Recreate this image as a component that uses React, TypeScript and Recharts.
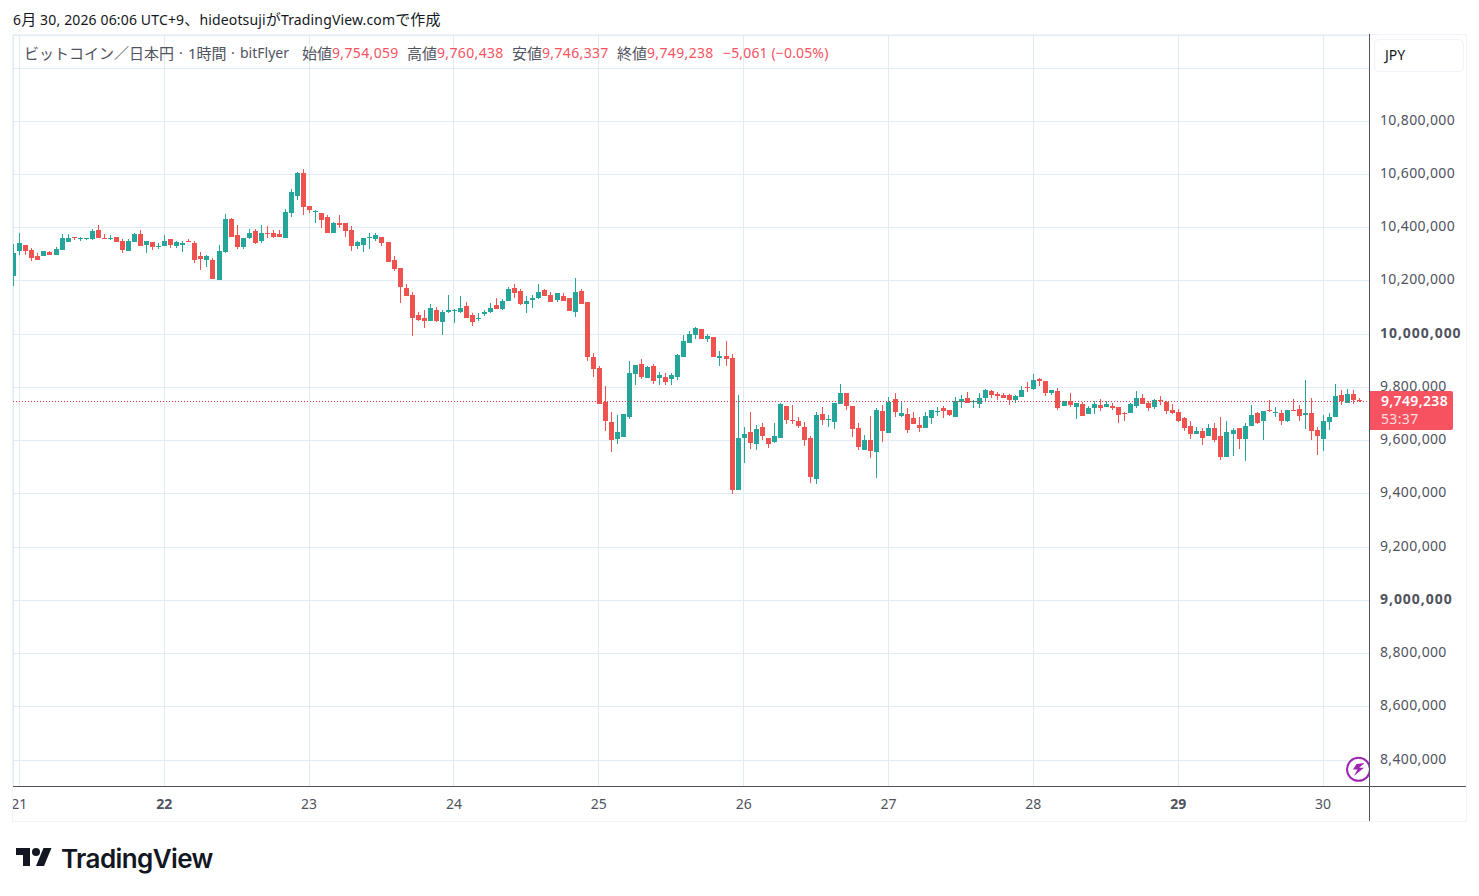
import { Bar, CartesianGrid, ComposedChart, ReferenceLine, XAxis, YAxis } from 'recharts';

// Hourly candles from 20th 23:00, prices in thousand yen
const opens = [
  10220, 10311, 10337, 10318, 10295, 10292, 10309, 10299, 10318, 10348, 10367, 10360,
  10360, 10356, 10390, 10360, 10356, 10367, 10352, 10314, 10348, 10375, 10337, 10348,
  10329, 10333, 10356, 10333, 10337, 10352, 10341, 10295, 10277, 10280, 10205, 10307,
  10431, 10371, 10329, 10360, 10386, 10352, 10382, 10382, 10375, 10360, 10454, 10518,
  10605, 10480, 10458, 10454, 10439, 10382, 10416, 10416, 10390, 10333, 10337, 10363,
  10356, 10367, 10348, 10277, 10250, 10175, 10148, 10073, 10061, 10050, 10092, 10046,
  10084, 10087, 10085, 10107, 10073, 10058, 10077, 10085, 10111, 10096, 10126, 10175,
  10164, 10115, 10130, 10137, 10167, 10149, 10130, 10145, 10137, 10085, 10164, 10122,
  9915, 9874, 9746, 9671, 9607, 9614, 9690, 9851, 9889, 9836, 9881, 9836,
  9840, 9833, 9840, 9914, 9967, 9997, 10020, 9982, 9990, 9911, 9918, 9911,
  9416, 9612, 9631, 9586, 9650, 9609, 9594, 9612, 9729, 9677, 9673, 9650,
  9612, 9458, 9699, 9677, 9669, 9737, 9778, 9729, 9646, 9567, 9601, 9556,
  9711, 9628, 9756, 9691, 9699, 9684, 9658, 9646, 9684, 9707, 9722, 9714,
  9688, 9744, 9759, 9744, 9737, 9759, 9786, 9775, 9771, 9771, 9752, 9763,
  9801, 9793, 9831, 9824, 9778, 9786, 9729, 9748, 9725, 9737, 9699, 9722,
  9733, 9725, 9729, 9725, 9703, 9703, 9729, 9759, 9740, 9725, 9752, 9744,
  9714, 9707, 9684, 9654, 9627, 9635, 9616, 9646, 9616, 9540, 9627, 9646,
  9605, 9657, 9703, 9673, 9714, 9703, 9703, 9673, 9714, 9718, 9695, 9703,
  9639, 9608, 9669, 9688, 9771, 9740, 9774, 9754.059,
];

const highs = [
  10340, 10379, 10337, 10324, 10306, 10311, 10314, 10329, 10375, 10375, 10367, 10367,
  10363, 10397, 10409, 10375, 10371, 10367, 10356, 10356, 10382, 10390, 10352, 10348,
  10341, 10371, 10356, 10352, 10352, 10356, 10352, 10307, 10299, 10288, 10337, 10450,
  10435, 10409, 10360, 10394, 10394, 10412, 10405, 10390, 10390, 10469, 10545, 10609,
  10620, 10480, 10465, 10454, 10446, 10420, 10446, 10416, 10405, 10352, 10363, 10382,
  10379, 10367, 10348, 10295, 10250, 10190, 10160, 10084, 10092, 10114, 10103, 10092,
  10148, 10095, 10145, 10122, 10081, 10081, 10092, 10119, 10137, 10134, 10179, 10190,
  10171, 10145, 10149, 10190, 10171, 10160, 10156, 10156, 10137, 10213, 10171, 10122,
  9930, 9881, 9806, 9708, 9697, 9701, 9900, 9885, 9908, 9881, 9889, 9859,
  9855, 9855, 9927, 9997, 10012, 10028, 10020, 10001, 9990, 9937, 9975, 9926,
  9771, 9650, 9707, 9658, 9665, 9609, 9665, 9741, 9729, 9733, 9688, 9669,
  9616, 9707, 9726, 9695, 9741, 9812, 9778, 9729, 9665, 9620, 9692, 9722,
  9733, 9763, 9778, 9744, 9722, 9707, 9688, 9707, 9714, 9725, 9729, 9714,
  9763, 9771, 9782, 9752, 9778, 9793, 9790, 9782, 9778, 9775, 9771, 9805,
  9820, 9850, 9835, 9824, 9790, 9797, 9748, 9778, 9741, 9744, 9729, 9748,
  9756, 9748, 9741, 9725, 9707, 9740, 9786, 9774, 9748, 9756, 9767, 9748,
  9737, 9718, 9688, 9673, 9650, 9646, 9661, 9665, 9688, 9673, 9646, 9646,
  9665, 9733, 9707, 9710, 9752, 9725, 9714, 9714, 9756, 9733, 9827, 9759,
  9650, 9695, 9703, 9812, 9790, 9793, 9790, 9760.438,
];

const lows = [
  10182, 10295, 10299, 10277, 10280, 10292, 10299, 10299, 10318, 10348, 10356, 10352,
  10356, 10356, 10363, 10356, 10352, 10348, 10303, 10311, 10348, 10333, 10307, 10318,
  10318, 10333, 10322, 10326, 10311, 10345, 10269, 10239, 10254, 10209, 10205, 10303,
  10367, 10318, 10318, 10356, 10337, 10345, 10360, 10360, 10363, 10360, 10439, 10503,
  10446, 10454, 10416, 10397, 10379, 10382, 10397, 10363, 10311, 10322, 10311, 10322,
  10348, 10333, 10273, 10239, 10118, 10144, 9994, 10050, 10024, 10050, 10046, 9997,
  10080, 10043, 10081, 10062, 10032, 10051, 10070, 10081, 10096, 10092, 10126, 10137,
  10111, 10081, 10100, 10134, 10145, 10122, 10122, 10126, 10088, 10066, 10115, 9900,
  9840, 9739, 9637, 9558, 9588, 9614, 9682, 9810, 9833, 9836, 9814, 9810,
  9810, 9810, 9829, 9914, 9967, 9982, 9982, 9971, 9914, 9880, 9880, 9401,
  9416, 9514, 9567, 9563, 9601, 9571, 9590, 9612, 9661, 9661, 9646, 9578,
  9439, 9435, 9658, 9650, 9643, 9737, 9714, 9612, 9563, 9567, 9533, 9458,
  9594, 9628, 9688, 9688, 9627, 9661, 9631, 9646, 9661, 9691, 9684, 9691,
  9688, 9722, 9741, 9722, 9722, 9744, 9759, 9752, 9759, 9733, 9741, 9763,
  9782, 9790, 9805, 9767, 9771, 9714, 9729, 9725, 9680, 9691, 9699, 9699,
  9710, 9725, 9714, 9665, 9673, 9703, 9722, 9737, 9710, 9718, 9733, 9699,
  9699, 9669, 9635, 9605, 9623, 9582, 9616, 9593, 9525, 9540, 9540, 9567,
  9522, 9657, 9661, 9601, 9707, 9688, 9657, 9669, 9710, 9673, 9642, 9601,
  9544, 9559, 9639, 9688, 9733, 9740, 9737, 9746.337,
];

const closes = [
  10306, 10341, 10314, 10288, 10280, 10311, 10299, 10322, 10363, 10363, 10360, 10363,
  10363, 10386, 10363, 10356, 10363, 10348, 10318, 10352, 10375, 10333, 10352, 10329,
  10333, 10352, 10337, 10348, 10341, 10348, 10280, 10284, 10295, 10209, 10311, 10431,
  10367, 10329, 10360, 10379, 10341, 10382, 10379, 10367, 10367, 10458, 10533, 10605,
  10477, 10465, 10462, 10428, 10379, 10416, 10412, 10386, 10333, 10348, 10363, 10367,
  10371, 10341, 10273, 10246, 10178, 10144, 10061, 10054, 10050, 10099, 10050, 10084,
  10092, 10091, 10100, 10062, 10047, 10062, 10085, 10100, 10096, 10126, 10171, 10156,
  10115, 10126, 10137, 10160, 10145, 10122, 10156, 10126, 10088, 10160, 10115, 9915,
  9870, 9739, 9675, 9603, 9633, 9701, 9855, 9885, 9840, 9878, 9825, 9848,
  9821, 9848, 9923, 9975, 10001, 10024, 9982, 9994, 9914, 9918, 9907, 9416,
  9612, 9624, 9590, 9643, 9616, 9586, 9616, 9737, 9677, 9673, 9654, 9601,
  9465, 9695, 9677, 9680, 9741, 9778, 9729, 9643, 9575, 9601, 9563, 9714,
  9635, 9745, 9707, 9703, 9639, 9661, 9646, 9691, 9714, 9710, 9710, 9695,
  9748, 9756, 9741, 9748, 9759, 9790, 9771, 9767, 9759, 9752, 9767, 9790,
  9797, 9827, 9824, 9778, 9790, 9722, 9748, 9733, 9741, 9691, 9722, 9737,
  9722, 9737, 9722, 9695, 9699, 9737, 9759, 9737, 9722, 9752, 9748, 9710,
  9703, 9673, 9646, 9627, 9635, 9612, 9646, 9601, 9540, 9631, 9642, 9608,
  9654, 9695, 9665, 9710, 9710, 9707, 9673, 9714, 9710, 9691, 9703, 9635,
  9616, 9673, 9688, 9767, 9748, 9774, 9752, 9749.238,
];

const dayTicks = [1, 25, 49, 73, 97, 121, 145, 169, 193, 217];
const dayLabels = ['21', '22', '23', '24', '25', '26', '27', '28', '29', '30'];
const boldDays = ['22', '29'];

const priceTicks = [8400, 8600, 8800, 9000, 9200, 9400, 9600, 9800, 10000, 10200, 10400, 10600, 10800, 11000];
const boldPrices = [9000, 10000];
const hiddenPrices = [11000];

const UP = '#26a69a';
const DOWN = '#ef5350';
const TAG = '#f7525f';
const TEXT = '#50535e';
const GRID = '#e1ecf2';
const FRAME = '#f0f3fa';
const FONT = '"Noto Sans", "Noto Sans CJK JP", sans-serif';
const NUM_SPACING = 0.35;

const candles = opens.map((open, i) => ({
  index: i,
  open,
  close: closes[i],
  range: [lows[i], highs[i]],
}));

const lastClose = closes[closes.length - 1];

function Candle(props: any) {
  const { x, y, width, height, payload } = props;
  const [low, high] = payload.range;
  const perUnit = height / (high - low);
  const top = y + (high - Math.max(payload.open, payload.close)) * perUnit;
  const bottom = y + (high - Math.min(payload.open, payload.close)) * perUnit;
  const color = payload.close >= payload.open ? UP : DOWN;
  const left = Math.round(x);
  const bodyTop = Math.round(top);
  const bodyHeight = Math.max(1, Math.round(bottom) - bodyTop);
  return (
    <g shapeRendering="crispEdges">
      <rect x={left + Math.floor(width / 2)} y={Math.round(y)} width={1} height={Math.max(1, Math.round(height))} fill={color} />
      <rect x={left} y={bodyTop} width={width} height={bodyHeight} fill={color} />
    </g>
  );
}

function LastPriceLine({ x1, x2, y1 }: any) {
  const y = Math.round(y1) + 0.5;
  return <line x1={x1} x2={x2} y1={y} y2={y} stroke="#d8393c" strokeDasharray="1 2" shapeRendering="crispEdges" />;
}

function DayTick({ x, y, payload }: any) {
  const label = dayLabels[dayTicks.indexOf(payload.value)];
  return (
    <text
      x={x}
      y={y + 15}
      textAnchor="middle"
      fontFamily={FONT}
      fontSize={14}
      fontWeight={boldDays.includes(label) ? 700 : 400}
      fill={TEXT}
    >
      {label}
    </text>
  );
}

function PriceTick({ y, payload }: any) {
  if (hiddenPrices.includes(payload.value)) return null;
  const bold = boldPrices.includes(payload.value);
  return (
    <text
      x={1380}
      y={y + 3.5}
      fontFamily={FONT}
      fontSize={14}
      letterSpacing={bold ? 0.95 : NUM_SPACING}
      fontWeight={bold ? 700 : 400}
      fill={TEXT}
    >
      {(payload.value * 1000).toLocaleString('en-US')}
    </text>
  );
}

function Label({ x, children, color = TEXT, size = 14 }: { x: number; children: string; color?: string; size?: number }) {
  return <span style={{ position: 'absolute', left: x, top: 0, color, fontSize: size, whiteSpace: 'nowrap' }}>{children}</span>;
}

function Num({ x, children, spacing = NUM_SPACING }: { x: number; children: string; spacing?: number }) {
  return <span style={{ position: 'absolute', left: x, top: 0, color: TAG, letterSpacing: spacing, whiteSpace: 'nowrap' }}>{children}</span>;
}

function Box({ x, y, w, h, color }: { x: number; y: number; w: number; h: number; color: string }) {
  return <div style={{ position: 'absolute', left: x, top: y, width: w, height: h, background: color }} />;
}

const Cjk = ({ children }: { children: string }) => <span style={{ fontSize: 15 }}>{children}</span>;

export default function App() {
  return (
    <div style={{ position: 'absolute', left: 0, top: 0, width: 1479, height: 896, background: '#fff', overflow: 'hidden', fontFamily: FONT }}>
      <div style={{ position: 'absolute', left: 13, top: 9, fontSize: 14, lineHeight: '20px', letterSpacing: 0.15, color: '#131722', whiteSpace: 'nowrap' }}>
        6<Cjk>月</Cjk> 30, 2026 06:06 UTC+9<Cjk>、</Cjk>hideotsuji<Cjk>が</Cjk>TradingView.com<Cjk>で作成</Cjk>
      </div>

      <ComposedChart
        width={1479}
        height={896}
        data={candles}
        margin={{ top: 35, left: 13, right: 13, bottom: 75 }}
        style={{ position: 'absolute', left: 0, top: 0 }}
      >
        <CartesianGrid stroke={GRID} strokeWidth={1} shapeRendering="crispEdges" />
        <XAxis
          dataKey="index"
          type="number"
          domain={[-0.05, 224.69]}
          allowDataOverflow
          ticks={dayTicks}
          interval={0}
          height={35}
          tickLine={false}
          axisLine={false}
          tick={<DayTick />}
        />
        <YAxis
          orientation="right"
          type="number"
          domain={[8303, 11124]}
          ticks={priceTicks}
          interval={0}
          width={96.5}
          tickLine={false}
          axisLine={false}
          tick={<PriceTick />}
        />
        <ReferenceLine y={lastClose} shape={<LastPriceLine />} />
        <Bar dataKey="range" barSize={5} isAnimationActive={false} shape={<Candle />} />
      </ComposedChart>

      {/* frame round the chart */}
      <Box x={0} y={787} w={12} h={34} color="#fff" />
      <Box x={12} y={34} w={1455} h={1} color={FRAME} />
      <Box x={12} y={821} w={1455} h={1} color={FRAME} />
      <Box x={12} y={34} w={1} h={788} color={FRAME} />
      <Box x={1466} y={34} w={1} h={788} color={FRAME} />
      <Box x={13} y={786} w={1453} h={1} color={TEXT} />
      <Box x={1369} y={34} w={1} h={787} color={TEXT} />

      {/* legend line */}
      <div style={{ position: 'absolute', left: 0, top: 43, width: 1000, height: 20, fontSize: 14, lineHeight: '20px' }}>
        <Label x={24} size={15}>ビットコイン／日本円</Label>
        <Label x={179}>·</Label>
        <Label x={188} size={15}>1時間</Label>
        <Label x={231}>·</Label>
        <Label x={240}>bitFlyer</Label>
        <Label x={302} size={15}>始値</Label>
        <Num x={332}>9,754,059</Num>
        <Label x={407} size={15}>高値</Label>
        <Num x={437}>9,760,438</Num>
        <Label x={512} size={15}>安値</Label>
        <Num x={542}>9,746,337</Num>
        <Label x={617} size={15}>終値</Label>
        <Num x={647}>9,749,238</Num>
        <Num x={723} spacing={0.15}>−5,061 (−0.05%)</Num>
      </div>

      {/* currency button */}
      <div style={{ position: 'absolute', left: 1374, top: 39, width: 88, height: 31, border: `1px solid ${FRAME}`, borderRadius: 5, fontSize: 14, lineHeight: '30px', color: '#131722', textIndent: 10 }}>
        JPY
      </div>

      {/* last price tag */}
      <div style={{ position: 'absolute', left: 1370, top: 391, width: 83, height: 39, background: TAG, color: '#fff', fontSize: 14, lineHeight: '18px', letterSpacing: NUM_SPACING, borderRadius: '0 2px 2px 0' }}>
        <div style={{ position: 'absolute', left: 11, top: 1, fontWeight: 600 }}>9,749,238</div>
        <div style={{ position: 'absolute', left: 11, top: 19, opacity: 0.8 }}>53:37</div>
      </div>

      {/* bolt badge */}
      <svg width={24} height={28} style={{ position: 'absolute', left: 1345, top: 755 }}>
        <circle cx={13.5} cy={14.3} r={11.5} fill="#fff" stroke="#9c27b0" strokeWidth={2} />
        <path d="M19.5 8 L11.5 9 L8 14.5 H12.5 L9 21 L19 12.8 H14.2 Z" fill="#9c27b0" />
      </svg>

      {/* logo */}
      <svg width={38} height={24} viewBox="0 0 36 24" style={{ position: 'absolute', left: 15, top: 844 }}>
        <path d="M14 22H7V11H0V4h14v18zM28 22h-8l7.5-18h8L28 22z" fill="#131722" />
        <circle cx={20} cy={8} r={4} fill="#131722" />
      </svg>
      <div style={{ position: 'absolute', left: 61, top: 842, fontFamily: 'Inter, sans-serif', fontWeight: 600, fontSize: 26, lineHeight: '33px', letterSpacing: -0.6, color: '#131722' }}>
        TradingView
      </div>
    </div>
  );
}
